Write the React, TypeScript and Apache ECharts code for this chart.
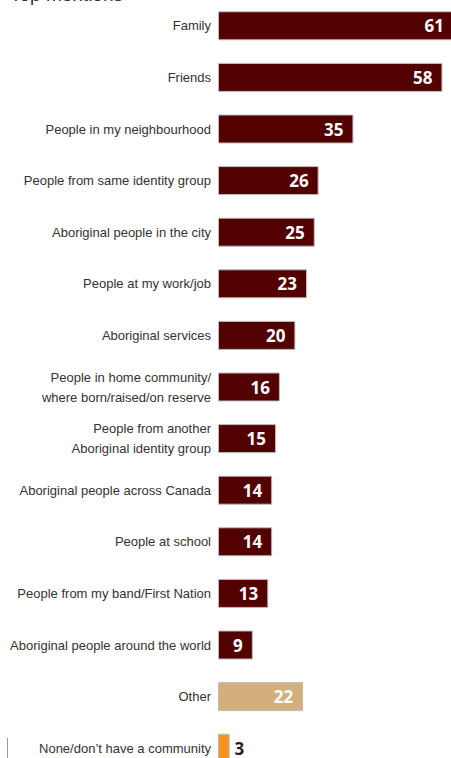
import React, { useEffect, useRef } from "react";
import * as echarts from "echarts";

const categories = [
  "Family",
  "Friends",
  "People in my neighbourhood",
  "People from same identity group",
  "Aboriginal people in the city",
  "People at my work/job",
  "Aboriginal services",
  "People in home community/\nwhere born/raised/on reserve",
  "People from another\nAboriginal identity group",
  "Aboriginal people across Canada",
  "People at school",
  "People from my band/First Nation",
  "Aboriginal people around the world",
  "Other",
  "None/don\u2019t have a community",
];
const values = [61, 58, 35, 26, 25, 23, 20, 16, 15, 14, 14, 13, 9, 22, 3];
const kinds = ["main", "main", "main", "main", "main", "main", "main", "main", "main", "main", "main", "main", "main", "other", "none"];
const titleText = "Top mentions";

const colors: Record<string, string> = { main: "#530000", other: "#D3AF7D", none: "#F7941D" };
const FONT = "'Liberation Sans Narrow', 'Liberation Sans', Arial, sans-serif";

export default function App() {
  const ref = useRef<HTMLDivElement>(null);
  useEffect(() => {
    if (!ref.current) return;
    const chart = echarts.init(ref.current, null, { renderer: "svg" });
    const data = values.map((v, i) => {
      const k = kinds[i];
      return {
        value: v,
        itemStyle: { color: colors[k], borderColor: "#BDBDBD", borderWidth: 1 },
        label:
          k === "none"
            ? { position: "right", color: "#222", distance: 5, fontWeight: "bold" }
            : { position: "insideRight", color: "#fff", distance: 10, fontWeight: "bold" },
      };
    });
    chart.setOption({
      animation: false,
      grid: { left: 218, top: 0, width: 65 * 3.87, height: 15 * 51.6, outerBoundsMode: "none", containLabel: false },
      xAxis: { type: "value", min: 0, max: 65, show: false },
      yAxis: {
        type: "category",
        data: categories,
        inverse: true,
        axisLine: { show: false },
        axisTick: { show: false },
        axisLabel: { margin: 7, color: "#333", fontFamily: FONT, fontSize: 13, lineHeight: 20 },
      },
      series: [
        {
          type: "bar",
          data,
          barWidth: 29,
          label: { show: true, fontFamily: "'Open Sans', sans-serif", fontSize: 17, fontWeight: "bold" },
        },
      ],
      graphic: [
        {
          type: "text",
          left: 10,
          top: -15,
          style: { text: titleText, fontFamily: FONT, fontSize: 19, fill: "#333" },
        },
        {
          type: "line",
          shape: { x1: 7.5, y1: 738, x2: 7.5, y2: 758 },
          style: { stroke: "#999", lineWidth: 1 },
        },
      ],
    });
    return () => chart.dispose();
  }, []);
  return <div ref={ref} style={{ position: "absolute", left: 0, top: 0, width: 451, height: 758 }} />;
}
